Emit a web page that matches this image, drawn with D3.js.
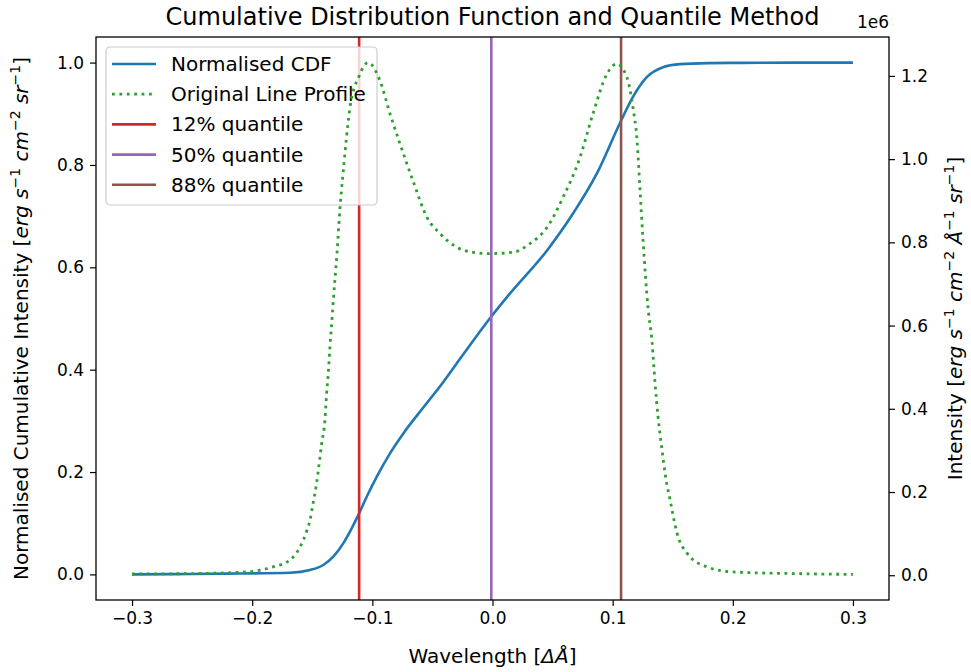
<!DOCTYPE html>
<html>
<head>
<meta charset="utf-8">
<script src="https://cdn.jsdelivr.net/npm/d3@7"></script>
<style>
  body { margin: 0; background: #fff; }
  svg { font-family: "DejaVu Sans", sans-serif; }
  text { white-space: pre; }
  .axis text { font-size: 17px; fill: #000; font-family: "DejaVu Sans", sans-serif; }
  .axis line { stroke: #000; stroke-width: 1.2; }
</style>
</head>
<body>
<div id="chart"></div>
<script>
// Normalised CDF
const cdfWavelength = [-0.3, -0.25, -0.21, -0.1685, -0.1519, -0.1408, -0.1325, -0.1242, -0.1172, -0.1117,
  -0.1047, -0.0964, -0.0853, -0.0742, -0.0576, -0.0409, -0.0243, -0.0021, 0.0146, 0.0454, 0.067, 0.087,
  0.1061, 0.1169, 0.1286, 0.1419, 0.1561, 0.18, 0.206, 0.25, 0.3];
const cdfValues = [0.0, 0.0008, 0.0018, 0.0033, 0.0086, 0.0184, 0.0346, 0.0606, 0.0899, 0.1159,
  0.1517, 0.1907, 0.2366, 0.2755, 0.326, 0.376, 0.430, 0.5004, 0.549, 0.633, 0.705, 0.784,
  0.882, 0.933, 0.972, 0.991, 0.997, 0.999, 0.9995, 1.0, 1.0];

// Original line profile (erg s-1 cm-2 A-1 sr-1)
const profileWavelength = [-0.3, -0.25, -0.2043, -0.1827, -0.1685, -0.1602, -0.1544, -0.1519, -0.1494, -0.1464,
  -0.1422, -0.1394, -0.1381, -0.1367, -0.1353, -0.1339, -0.1325, -0.1294, -0.1269, -0.1244, -0.1186, -0.111,
  -0.1036, -0.0936, -0.0853, -0.077, -0.0662, -0.0545, -0.0437, -0.0295, -0.0162, -0.0021, 0.0171, 0.0312,
  0.0454, 0.0587, 0.0728, 0.0836, 0.0953, 0.1036, 0.1119, 0.1169, 0.1203, 0.1228, 0.1253, 0.1294, 0.1328,
  0.1353, 0.1378, 0.1411, 0.1436, 0.1478, 0.1536, 0.1619, 0.1785, 0.2002, 0.25, 0.3];
const profileIntensity = [3000, 4000, 8000, 20000, 36500, 68000, 108000, 132000, 172000, 221000,
  316000, 375000, 436000, 485000, 548000, 604000, 660000, 775000, 884000, 965000, 1124000, 1200000,
  1232000, 1188000, 1109000, 1037000, 948000, 860000, 821000, 788000, 776000, 773000, 776000, 797000,
  836000, 908000, 1004000, 1109000, 1205000, 1229000, 1196000, 1124000, 1045000, 925000, 805000, 644000, 560000,
  461000, 380000, 301000, 245000, 181000, 101000, 53000, 20000, 8000, 4000, 2000];

// Quantile positions
const quantileLabels = ['12% quantile', '50% quantile', '88% quantile'];
const quantileWavelengths = [-0.111, -0.001, 0.107];

// Tick labels
const xTicks = [-0.3, -0.2, -0.1, 0.0, 0.1, 0.2, 0.3];
const leftTicks = [0.0, 0.2, 0.4, 0.6, 0.8, 1.0];
const rightTicks = [0, 200000, 400000, 600000, 800000, 1000000, 1200000];

class QuantileChart {

  constructor(_config) {
    this.config = {
      parentElement: _config.parentElement,
      containerWidth: _config.containerWidth || 971,
      containerHeight: _config.containerHeight || 672,
      margin: _config.margin || { top: 37, right: 82, bottom: 72, left: 96 },
      colors: { cdf: '#1f77b4', profile: '#2ca02c', quantiles: ['#d62728', '#9467bd', '#8c564b'] }
    };
    this.initVis();
  }

  initVis() {
    let vis = this;
    const m = vis.config.margin;
    vis.width = vis.config.containerWidth - m.left - m.right;
    vis.height = vis.config.containerHeight - m.top - m.bottom;

    // matplotlib style 5% padding round the data
    const padded = ext => {
      const r = ext[1] - ext[0];
      return [ext[0] - 0.05 * r, ext[1] + 0.05 * r];
    };

    vis.xScale = d3.scaleLinear().domain(padded(d3.extent(cdfWavelength))).range([0, vis.width]);
    vis.yScale = d3.scaleLinear().domain(padded(d3.extent(cdfValues))).range([vis.height, 0]);
    vis.y2Scale = d3.scaleLinear().domain(padded(d3.extent(profileIntensity))).range([vis.height, 0]);

    vis.xAxis = d3.axisBottom(vis.xScale).tickValues(xTicks).tickSize(6).tickPadding(6)
      .tickSizeOuter(0).tickFormat(d3.format('.1f'));
    vis.yAxis = d3.axisLeft(vis.yScale).tickValues(leftTicks).tickSize(6).tickPadding(6)
      .tickSizeOuter(0).tickFormat(d3.format('.1f'));
    vis.y2Axis = d3.axisRight(vis.y2Scale).tickValues(rightTicks).tickSize(6).tickPadding(6)
      .tickSizeOuter(0).tickFormat(d => (d / 1e6).toFixed(1));

    vis.svg = d3.select(vis.config.parentElement)
      .append('svg')
      .attr('width', vis.config.containerWidth)
      .attr('height', vis.config.containerHeight);

    vis.chart = vis.svg.append('g')
      .attr('transform', `translate(${m.left},${m.top})`);

    vis.svg.append('defs').append('clipPath').attr('id', 'plot-clip')
      .append('rect').attr('width', vis.width).attr('height', vis.height);

    vis.xAxisG = vis.chart.append('g').attr('class', 'axis x-axis')
      .attr('transform', `translate(0,${vis.height})`);
    vis.yAxisG = vis.chart.append('g').attr('class', 'axis y-axis');
    vis.y2AxisG = vis.chart.append('g').attr('class', 'axis y2-axis')
      .attr('transform', `translate(${vis.width},0)`);

    vis.plot = vis.chart.append('g').attr('clip-path', 'url(#plot-clip)');

    // Title and axis titles
    vis.svg.append('text')
      .attr('x', m.left + vis.width / 2).attr('y', 25)
      .attr('text-anchor', 'middle').attr('font-size', 24)
      .text('Cumulative Distribution Function and Quantile Method');

    vis.svg.append('text')
      .attr('x', m.left + vis.width).attr('y', 28)
      .attr('text-anchor', 'end').attr('font-size', 17)
      .text('1e6');

    const fs = 20;
    const xTitle = vis.svg.append('text')
      .attr('x', m.left + vis.width / 2).attr('y', 663)
      .attr('text-anchor', 'middle').attr('font-size', fs);
    vis.mathText(xTitle, [{ t: 'Wavelength [' }, { t: 'ΔÅ', it: true }, { t: ']' }], fs);

    const yTitle = vis.svg.append('text')
      .attr('transform', `translate(28,${m.top + vis.height / 2}) rotate(-90)`)
      .attr('text-anchor', 'middle').attr('font-size', fs);
    vis.mathText(yTitle, [
      { t: 'Normalised Cumulative Intensity [' }, { t: 'erg s', it: true }, { t: '−1', sup: true },
      { t: ' cm', it: true }, { t: '−2', sup: true }, { t: ' sr', it: true }, { t: '−1', sup: true }, { t: ']' }
    ], fs);

    const y2Title = vis.svg.append('text')
      .attr('transform', `translate(962,${m.top + vis.height / 2}) rotate(-90)`)
      .attr('text-anchor', 'middle').attr('font-size', fs);
    vis.mathText(y2Title, [
      { t: 'Intensity [' }, { t: 'erg s', it: true }, { t: '−1', sup: true },
      { t: ' cm', it: true }, { t: '−2', sup: true }, { t: ' Å', it: true }, { t: '−1', sup: true },
      { t: ' sr', it: true }, { t: '−1', sup: true }, { t: ']' }
    ], fs);
  }

  // tspans for italic pieces and superscripts
  mathText(sel, parts, fs) {
    let shift = 0;
    parts.forEach(p => {
      const t = sel.append('tspan').text(p.t);
      if (p.it) t.style('font-style', 'italic');
      if (p.sup) {
        t.attr('font-size', fs * 0.7).attr('dy', -fs * 0.42);
        shift = fs * 0.42;
      } else if (shift) {
        t.attr('dy', shift);
        shift = 0;
      }
    });
  }

  updateVis() {
    let vis = this;
    vis.cdfData = cdfWavelength.map((w, i) => ({ w: w, v: cdfValues[i] }));
    vis.profileData = profileWavelength.map((w, i) => ({ w: w, v: profileIntensity[i] }));
    vis.quantileData = quantileWavelengths.map((w, i) => ({ w: w, label: quantileLabels[i], color: vis.config.colors.quantiles[i] }));
    vis.renderVis();
  }

  renderVis() {
    let vis = this;
    const c = vis.config.colors;

    const cdfLine = d3.line().x(d => vis.xScale(d.w)).y(d => vis.yScale(d.v)).curve(d3.curveMonotoneX);
    const profileLine = d3.line().x(d => vis.xScale(d.w)).y(d => vis.y2Scale(d.v)).curve(d3.curveMonotoneX);

    vis.plot.append('path')
      .datum(vis.cdfData)
      .attr('fill', 'none').attr('stroke', c.cdf).attr('stroke-width', 2.6)
      .attr('d', cdfLine);

    vis.plot.selectAll('.quantile')
      .data(vis.quantileData)
      .join('line')
      .attr('class', 'quantile')
      .attr('x1', d => vis.xScale(d.w)).attr('x2', d => vis.xScale(d.w))
      .attr('y1', 0).attr('y2', vis.height)
      .attr('stroke', d => d.color).attr('stroke-width', 2.6);

    // Legend sits on the left axes, under the profile of the twin axes
    const legendItems = [
      { label: 'Normalised CDF', color: c.cdf, dash: null },
      { label: 'Original Line Profile', color: c.profile, dash: '2.8,4.6' }
    ].concat(vis.quantileData.map(d => ({ label: d.label, color: d.color, dash: null })));

    const legend = vis.chart.append('g').attr('transform', 'translate(10,10)');
    legend.append('rect')
      .attr('width', 271).attr('height', 158).attr('rx', 4)
      .attr('fill', 'white').attr('fill-opacity', 0.8)
      .attr('stroke', '#cccccc').attr('stroke-width', 1.2);

    const rows = legend.selectAll('.legend-row')
      .data(legendItems)
      .join('g')
      .attr('class', 'legend-row')
      .attr('transform', (d, i) => `translate(0,${17 + i * 30.2})`);

    rows.append('line')
      .attr('x1', 6).attr('x2', 50)
      .attr('stroke', d => d.color).attr('stroke-width', d => d.dash ? 2.8 : 2.6)
      .attr('stroke-dasharray', d => d.dash);

    rows.append('text')
      .attr('x', 65).attr('dy', '0.35em')
      .attr('font-size', 20).attr('fill', '#000')
      .text(d => d.label);

    vis.chart.append('g').attr('clip-path', 'url(#plot-clip)')
      .append('path')
      .datum(vis.profileData)
      .attr('fill', 'none').attr('stroke', c.profile).attr('stroke-width', 2.8)
      .attr('stroke-dasharray', '2.8,4.6')
      .attr('d', profileLine);

    // Frame
    vis.chart.append('rect')
      .attr('width', vis.width).attr('height', vis.height)
      .attr('fill', 'none').attr('stroke', '#000').attr('stroke-width', 1.3);

    vis.xAxisG.call(vis.xAxis).call(g => g.select('.domain').remove());
    vis.yAxisG.call(vis.yAxis).call(g => g.select('.domain').remove());
    vis.y2AxisG.call(vis.y2Axis).call(g => g.select('.domain').remove());
  }
}

const chart = new QuantileChart({ parentElement: '#chart' });
chart.updateVis();
</script>
</body>
</html>
